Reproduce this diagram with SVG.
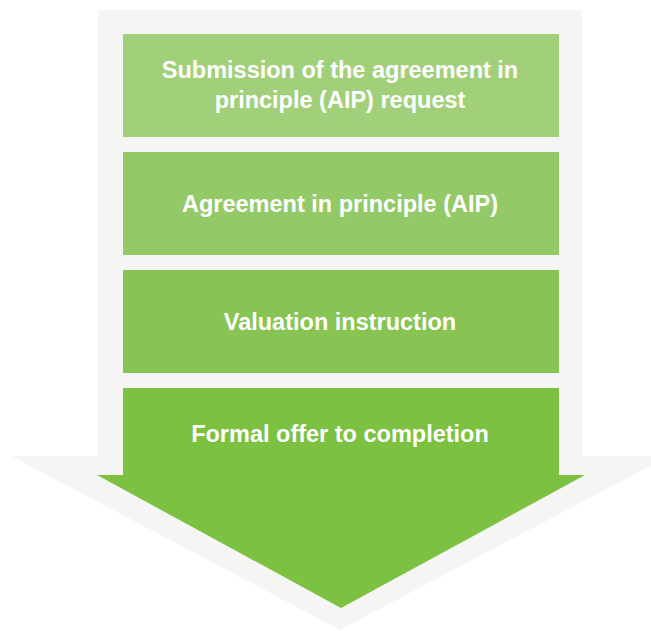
<svg xmlns="http://www.w3.org/2000/svg" width="651" height="631" viewBox="0 0 651 631">
  <style>
    .lbl { font-family: "Liberation Sans", Arial, sans-serif; font-weight: bold; font-size: 23.5px; fill: #ffffff; text-anchor: middle; }
  </style>
  <rect x="0" y="0" width="651" height="631" fill="#ffffff"/>
  <g id="background-arrow">
    <polygon points="98,10 582,10 582,456 669,456 340,630 11,456 98,456" fill="#f5f5f3"/>
  </g>
  <g id="connectors"/>
  <g id="step1">
    <rect x="123" y="34" width="436" height="103" fill="#a2d07a"/>
    <text class="lbl" x="340" y="78">Submission of the agreement in</text>
    <text class="lbl" x="340" y="108">principle (AIP) request</text>
  </g>
  <g id="step2">
    <rect x="123" y="152" width="436" height="103" fill="#94c968"/>
    <text class="lbl" x="340" y="212">Agreement in principle (AIP)</text>
  </g>
  <g id="step3">
    <rect x="123" y="270" width="436" height="103" fill="#87c453"/>
    <text class="lbl" x="340" y="330">Valuation instruction</text>
  </g>
  <g id="step4">
    <polygon points="123,388 559,388 559,475 585,475 341,608 97,475 123,475" fill="#7cc142"/>
    <text class="lbl" x="340" y="442">Formal offer to completion</text>
  </g>
</svg>
